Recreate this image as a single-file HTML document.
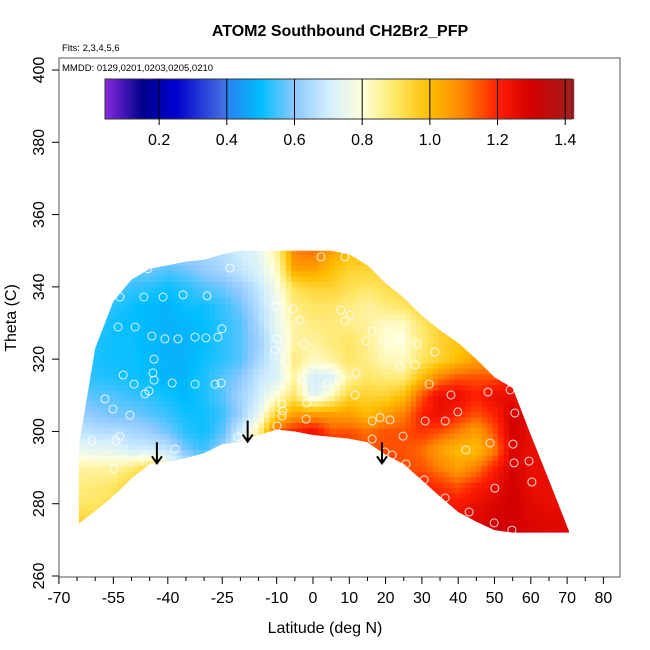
<!DOCTYPE html>
<html><head><meta charset="utf-8">
<style>
html,body{margin:0;padding:0;background:#fff;}
svg{display:block;font-family:"Liberation Sans",Arial,sans-serif;}
</style></head>
<body>
<svg id="chart" width="650" height="650" viewBox="0 0 650 650" xmlns="http://www.w3.org/2000/svg">
<defs>
<clipPath id="dataclip"><polygon id="clippoly" points=""></polygon></clipPath>
</defs>
<text x="340" y="36" text-anchor="middle" font-size="16" font-weight="bold">ATOM2 Southbound CH2Br2_PFP</text>
<text x="62" y="51" font-size="9.5">Flts: 2,3,4,5,6</text>
<rect x="59" y="58" width="561" height="519" fill="none" stroke="#555" stroke-width="1"/>
<text x="62" y="71" font-size="9.5">MMDD: 0129,0201,0203,0205,0210</text>
<g id="heat" clip-path="url(#dataclip)"></g>
<g id="pts"></g>
<g id="arrows"></g>
<g id="cb"></g>
<g id="xaxis"></g>
<g id="yaxis"></g>
<text x="325" y="633" text-anchor="middle" font-size="16">Latitude (deg N)</text>
<text transform="translate(16,318) rotate(-90)" text-anchor="middle" font-size="16">Theta (C)</text>
</svg>
<script>
const lats = [-65,-60,-55,-50,-45,-40,-35,-30,-25,-20,-15,-10,-5,0,5,10,15,20,25,30,35,40,45,50,55,60,65,70];
const thetas = [350,345,340,335,330,325,320,315,310,305,300,295,290,285,280,275];
const vals = [
[.68,.68,.68,.68,.66,.64,.64,.64,.66,.70,.74,.85,1.10,1.12,1.05,1.00,1.00,.95,.95,.95,.95,.95,.95,.95,.95,.95,.95,.95],
[.64,.62,.61,.58,.58,.56,.58,.61,.64,.68,.72,.82,1.05,1.05,1.00,.95,.95,.95,.95,.95,.95,.95,.95,.95,.95,.95,.95,.95],
[.61,.58,.56,.54,.53,.51,.53,.56,.58,.62,.68,.78,.92,.95,.95,.92,.90,.92,.95,.95,.95,.95,.95,.95,.95,.95,.95,.95],
[.58,.56,.53,.51,.49,.48,.51,.51,.54,.58,.66,.75,.88,.90,.90,.88,.85,.88,.90,.95,.98,.98,.98,.98,.98,.98,.98,.98],
[.56,.54,.51,.50,.49,.48,.49,.50,.53,.56,.64,.75,.85,.88,.88,.87,.85,.82,.82,.90,.95,.97,.98,.98,.98,.98,.98,.98],
[.56,.52,.51,.51,.49,.48,.48,.50,.53,.56,.62,.72,.85,.85,.88,.90,.87,.80,.80,.88,.95,.98,.98,1.00,1.00,1.00,1.00,1.00],
[.56,.52,.51,.51,.49,.48,.48,.51,.53,.56,.64,.72,.88,.82,.85,.90,.87,.83,.82,.90,.95,1.00,1.05,1.05,1.05,1.05,1.05,1.05],
[.56,.53,.52,.51,.50,.48,.49,.52,.56,.60,.68,.72,.85,.70,.72,.85,.90,.88,.88,1.00,1.10,1.15,1.15,1.15,1.20,1.20,1.20,1.20],
[.58,.56,.56,.54,.53,.51,.49,.52,.56,.63,.70,.80,.90,.72,.82,.95,.95,.95,1.00,1.15,1.25,1.25,1.20,1.25,1.25,1.20,1.20,1.20],
[.62,.60,.58,.58,.56,.54,.51,.51,.54,.62,.74,.95,1.05,1.05,1.05,1.05,1.00,1.05,1.10,1.20,1.25,1.20,1.15,1.20,1.30,1.25,1.25,1.25],
[.68,.66,.66,.64,.62,.58,.53,.51,.56,.70,.85,1.15,1.20,1.25,1.15,1.15,1.12,1.15,1.15,1.18,1.15,1.10,1.05,1.15,1.30,1.25,1.25,1.25],
[.76,.74,.74,.70,.70,.68,.58,.54,.62,.74,.90,1.20,1.25,1.25,1.20,1.20,1.15,1.15,1.15,1.12,1.05,1.00,1.00,1.10,1.28,1.25,1.25,1.25],
[.85,.85,.85,.88,.95,.80,.70,.65,.70,.78,.95,1.20,1.25,1.20,1.20,1.20,1.20,1.20,1.15,1.15,1.10,1.05,1.10,1.20,1.30,1.25,1.25,1.25],
[.88,.88,.90,.95,.95,.90,.85,.80,.80,.85,.95,1.20,1.25,1.20,1.20,1.20,1.22,1.22,1.20,1.20,1.18,1.15,1.20,1.25,1.30,1.25,1.25,1.25],
[.90,.90,.92,.95,.95,.92,.90,.90,.90,.90,.95,1.20,1.25,1.22,1.22,1.22,1.25,1.25,1.25,1.25,1.22,1.22,1.25,1.28,1.30,1.27,1.25,1.25],
[.95,.95,.95,.95,.95,.95,.95,.95,.95,.95,.95,1.20,1.25,1.22,1.22,1.22,1.25,1.25,1.25,1.25,1.25,1.25,1.27,1.30,1.30,1.28,1.27,1.27]
];
const bLats =   [-64.5,-60,-55,-50,-45,-40,-35,-30,-25,-20,-15,-10,-5,0,5,10,15,20,25,30,35,40,45,50,55,60,65,70.5];
const bTop =    [296,323,336,342,345,346,347,347.5,349,350,350,350,350,350,350,349,346,341,337,332,328,324.5,320,315,312,299,286.5,272.5];
const bBottom = [274.5,278,282,287,291,291.5,292.6,294,296.5,297,299,300.5,300,299,298.5,298,297,293.5,291,286.5,282,277.7,275,272.7,272,272,272,272];
const ptLat = [-45.5,-53.2,-46.6,-41.3,-35.8,-29.2,-53.7,-49,-44.4,-40.8,-37.2,-32.5,-29.5,-26.2,-25.1,-43.8,-44.1,-52.3,-43.8,-49.3,-45.2,-38.8,-32.5,-27,-25.3,-46.3,-57.3,-55.1,-50.4,-53.2,-54.3,-60.9,-38,-46.6,-54.8,-54.3,-20.7,-14,-10.5,-8.3,-10.2,-10.2,-5.5,-3.6,-9.9,-2.5,-7.2,-3,-8.5,-8.3,-1.9,-1.7,-9.9,-8.5,8.8,10.2,7.7,11.8,14.6,16.3,11.6,3.9,24,28.1,24,28.7,33.6,32,16.3,21.2,30.9,39.9,38,48.2,54.3,55.6,36.4,48.8,55.1,42.1,18.5,24.8,16.3,19.8,21.8,25.6,30.6,36.4,43,50.1,49.9,54.8,55.4,59.5,60.3,2.2,8.8,-22.9];
const ptTheta = [345,337.2,337.2,337.2,337.8,337.5,328.9,328.9,326.4,325.6,325.6,326.1,325.9,326.1,328.4,320,316.2,315.6,314.2,313.1,311.2,313.4,313.1,313.1,313.4,310.4,309,306.2,304.5,298.7,297.4,297.4,295.1,292.4,289.6,281.3,298.5,297.1,322.5,322.5,336.4,334.7,333.9,330.8,325.6,324.2,319.2,314.2,307.6,305.7,303.4,307.9,301.5,304.3,330.6,332.2,333.6,316.2,325,327.8,310.1,313.1,317.8,318.4,325.6,324.2,322,313.1,302.9,303.2,302.9,305.4,310.1,310.9,311.5,305.1,302.9,296.8,296.5,294.9,303.9,298.7,297.9,294.3,293.5,291,286.6,281.6,277.7,284.3,274.7,272.7,291.3,291.8,286,348.3,348.3,345.2];
const arrowLat = [-43,-18,19];
const arrowTheta = [297,303,297];
const xTicks = [-70,-55,-40,-25,-10,0,10,20,30,40,50,60,70,80];
const yTicks = [260,280,300,320,340,360,380,400];
const cbTicks = [0.2,0.4,0.6,0.8,1.0,1.2,1.4];
const cbMin = 0.04, cbMax = 1.42;

const NS = "http://www.w3.org/2000/svg";
const X = lat => 313 + lat*3.63;
const Y = th => 576 - (th-260)*3.614;
const CB = v => 105 + (v-cbMin)/(cbMax-cbMin)*467;

const stops = [[0.04,[138,43,226]],[0.15,[0,0,139]],[0.2,[0,0,176]],[0.25,[0,0,205]],[0.39,[70,110,225]],[0.4,[40,128,240]],[0.5,[0,190,255]],[0.6,[140,200,255]],[0.7,[210,238,255]],[0.8,[255,255,220]],[0.9,[255,230,100]],[1.0,[255,190,0]],[1.1,[255,130,0]],[1.2,[255,30,0]],[1.3,[210,0,0]],[1.42,[165,30,30]]];
function col(v){
  if(v<=stops[0][0]) return 'rgb('+stops[0][1]+')';
  for(let i=1;i<stops.length;i++){
    if(v<=stops[i][0]){
      const a=stops[i-1],b=stops[i],t=(v-a[0])/(b[0]-a[0]);
      const c=a[1].map((x,k)=>Math.round(x+(b[1][k]-x)*t));
      return 'rgb('+c+')';
    }
  }
  return 'rgb('+stops[stops.length-1][1]+')';
}
function mk(tag,attrs,parent){const e=document.createElementNS(NS,tag);for(const k in attrs)e.setAttribute(k,attrs[k]);parent.appendChild(e);return e;}

const pp=[];
for(let i=0;i<bLats.length;i++) pp.push(X(bLats[i])+','+Y(bTop[i]));
for(let i=bLats.length-1;i>=0;i--) pp.push(X(bLats[i])+','+Y(bBottom[i]));
document.getElementById('clippoly').setAttribute('points',pp.join(' '));

function sample(lat,th){
  let fi=(lat-lats[0])/5; fi=Math.max(0,Math.min(lats.length-1,fi));
  let fj=(thetas[0]-th)/5; fj=Math.max(0,Math.min(thetas.length-1,fj));
  const i0=Math.floor(fi),j0=Math.floor(fj),i1=Math.min(i0+1,lats.length-1),j1=Math.min(j0+1,thetas.length-1);
  const ti=fi-i0,tj=fj-j0;
  const a=vals[j0][i0]*(1-ti)+vals[j0][i1]*ti, b=vals[j1][i0]*(1-ti)+vals[j1][i1]*ti;
  return a*(1-tj)+b*tj;
}
const heat=document.getElementById('heat');
for(let lat=-66;lat<72;lat+=1.5){
  for(let th=271;th<352;th+=1.5){
    const r=mk('rect',{x:X(lat).toFixed(2),y:Y(th+1.5).toFixed(2),width:(1.5*3.63+0.6).toFixed(2),height:(1.5*3.614+0.6).toFixed(2),fill:col(sample(lat+0.75,th+0.75))},heat);
    
    
  }
}
const ptsG=document.getElementById('pts');
for(let i=0;i<ptLat.length;i++){
  const c=mk('circle',{cx:X(ptLat[i]),cy:Y(ptTheta[i]),r:4,fill:'none',stroke:'rgba(255,255,255,0.85)','stroke-width':1},ptsG);
  
  
}
const arG=document.getElementById('arrows');
for(let i=0;i<arrowLat.length;i++){
  const x=X(arrowLat[i]),y=Y(arrowTheta[i]);
  const g=mk('g',{},arG);
  
  
  mk('line',{x1:x,y1:y,x2:x,y2:y+21,stroke:'#000','stroke-width':2},g);
  mk('polyline',{points:(x-5)+','+(y+14)+' '+x+','+(y+21)+' '+(x+5)+','+(y+14),fill:'none',stroke:'#000','stroke-width':2},g);
}
const cb=document.getElementById('cb');
for(let v=cbMin; v<cbMax; v+=0.005){
  const r=mk('rect',{x:CB(v).toFixed(2),y:79,width:(467*0.005/(cbMax-cbMin)+0.5).toFixed(2),height:40,fill:col(v+0.0025)},cb);
  
  
}
mk('rect',{x:105,y:79,width:467,height:40,fill:'none',stroke:'#333','stroke-width':1},cb);
cbTicks.forEach(t=>{
  mk('line',{x1:CB(t),y1:79,x2:CB(t),y2:125,stroke:'#000','stroke-width':1},cb);
  const tx=mk('text',{x:CB(t),y:145,'text-anchor':'middle','font-size':16},cb);
  tx.textContent=t.toFixed(1);
  
  
});
const xa=document.getElementById('xaxis');
for(let v=-70;v<=80;v+=5){
  const major=xTicks.includes(v);
  mk('line',{x1:X(v),y1:577,x2:X(v),y2:major?584:581,stroke:'#000','stroke-width':1},xa);
}
xTicks.forEach(t=>{
  const tx=mk('text',{x:X(t),y:603,'text-anchor':'middle','font-size':16},xa);
  tx.textContent=t;
  
  
});
const ya=document.getElementById('yaxis');
yTicks.forEach(t=>{
  mk('line',{x1:52,y1:Y(t),x2:59,y2:Y(t),stroke:'#000','stroke-width':1},ya);
  const tx=mk('text',{transform:'translate(44,'+Y(t)+') rotate(-90)','text-anchor':'middle','font-size':16},ya);
  tx.textContent=t;
  
  
});
</script>
</body></html>
